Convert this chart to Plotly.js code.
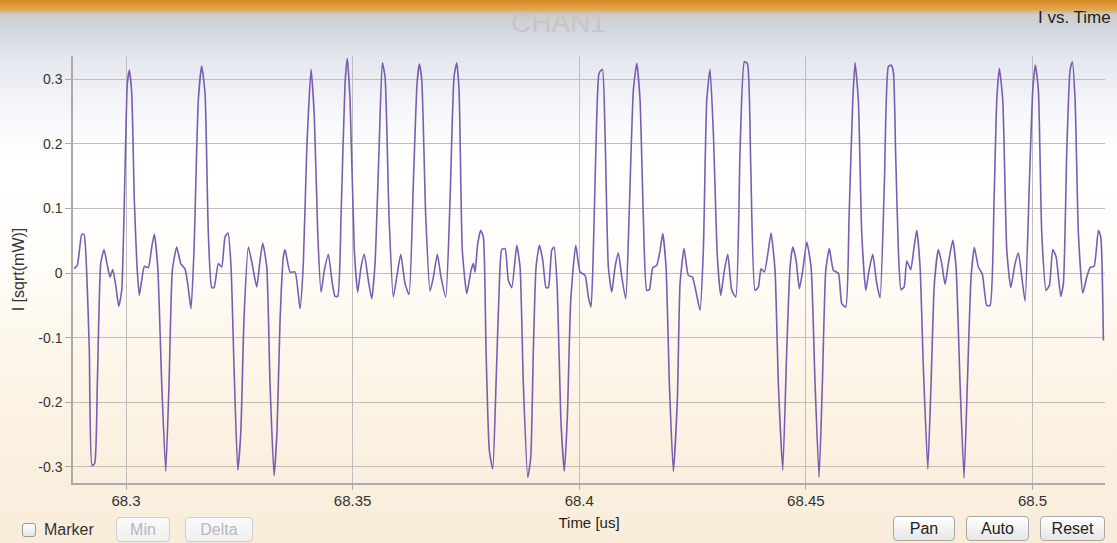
<!DOCTYPE html>
<html>
<head>
<meta charset="utf-8">
<script src="https://cdn.plot.ly/plotly-3.0.1.min.js"></script>
<style>
  html, body { margin: 0; padding: 0; }
  #wrap {
    position: relative; width: 1117px; height: 543px; overflow: hidden;
    background: linear-gradient(to bottom,
      #d48823 0px, #e3a448 9px, #d0cdc9 15px, #d0d5de 28px, #e4e8ef 60px,
      #f6f7fa 110px, #ffffff 160px, #fffdf9 260px, #fcf4e6 380px, #f9ecda 543px);
    font-family: "Liberation Sans", Arial, sans-serif;
  }
  #chart { position: absolute; left: 0; top: 0; width: 1117px; height: 543px; }
  .btn {
    position: absolute; height: 25px; box-sizing: border-box;
    border: 1px solid #a9a9a9; border-radius: 4px;
    background: linear-gradient(to bottom, #ffffff, #e6e6e6);
    font-size: 16px; color: #222; text-align: center; line-height: 23px;
  }
  .btn.off { color: #b8b8b8; border-color: #cfcfcf; background: linear-gradient(to bottom, #fbfbfb, #efefef); }
  #chk { position: absolute; left: 22px; top: 523px; width: 14px; height: 14px; box-sizing: border-box;
    border: 1px solid #9a9a9a; border-radius: 3px; background: linear-gradient(#fff,#e6e6e6); }
  #chklbl { position: absolute; left: 44px; top: 521px; font-size: 16px; color: #333; }
</style>
</head>
<body>
<div id="wrap">
  <div id="chart"></div>
  <div id="chk"></div><div id="chklbl">Marker</div>
  <div class="btn off" style="left:116px;top:517px;width:54px;">Min</div>
  <div class="btn off" style="left:185px;top:517px;width:68px;">Delta</div>
  <div class="btn" style="left:893px;top:516px;width:62px;">Pan</div>
  <div class="btn" style="left:966px;top:516px;width:63px;">Auto</div>
  <div class="btn" style="left:1040px;top:516px;width:65px;">Reset</div>
</div>
<script>
// Time axis (us)
const timeUs = [68.28853,68.28925,68.29023,68.29073,68.29133,68.29190,68.29250,68.29309,68.29367,68.29442,68.29515,68.29587,68.29647,68.29707,68.29773,68.29839,68.29905,68.29963,68.30029,68.30073,68.30126,68.30183,68.30243,68.30293,68.30346,68.30404,68.30492,68.30567,68.30624,68.30700,68.30788,68.30876,68.30949,68.31022,68.31119,68.31207,68.31302,68.31361,68.31434,68.31500,68.31595,68.31670,68.31743,68.31816,68.31891,68.31942,68.32037,68.32112,68.32184,68.32251,68.32317,68.32383,68.32465,68.32531,68.32604,68.32699,68.32796,68.32884,68.32957,68.33016,68.33105,68.33177,68.33266,68.33332,68.33398,68.33471,68.33508,68.33619,68.33729,68.33839,68.33912,68.33987,68.34082,68.34155,68.34230,68.34303,68.34376,68.34464,68.34552,68.34612,68.34671,68.34744,68.34832,68.34883,68.34943,68.35037,68.35112,68.35185,68.35258,68.35346,68.35421,68.35494,68.35582,68.35655,68.35715,68.35803,68.35898,68.35973,68.36061,68.36156,68.36244,68.36339,68.36421,68.36472,68.36525,68.36613,68.36708,68.36781,68.36869,68.36950,68.37054,68.37149,68.37237,68.37297,68.37348,68.37420,68.37518,68.37612,68.37663,68.37701,68.37760,68.37826,68.37884,68.37943,68.38016,68.38091,68.38164,68.38237,68.38290,68.38363,68.38435,68.38511,68.38621,68.38694,68.38766,68.38864,68.38930,68.38987,68.39047,68.39120,68.39195,68.39267,68.39318,68.39393,68.39444,68.39517,68.39592,68.39671,68.39737,68.39812,68.39923,68.40018,68.40128,68.40201,68.40260,68.40311,68.40386,68.40437,68.40510,68.40569,68.40642,68.40717,68.40790,68.40863,68.40938,68.41026,68.41099,68.41194,68.41269,68.41341,68.41414,68.41489,68.41547,68.41622,68.41710,68.41783,68.41842,68.41915,68.41988,68.42076,68.42164,68.42224,68.42312,68.42407,68.42495,68.42570,68.42665,68.42738,68.42813,68.42886,68.42959,68.43047,68.43122,68.43202,68.43277,68.43365,68.43453,68.43548,68.43643,68.43709,68.43784,68.43879,68.43952,68.44011,68.44084,68.44172,68.44232,68.44320,68.44393,68.44490,68.44578,68.44651,68.44711,68.44784,68.44856,68.44931,68.45020,68.45115,68.45203,68.45291,68.45364,68.45439,68.45518,68.45607,68.45717,68.45792,68.45880,68.45953,68.46035,68.46085,68.46158,68.46233,68.46322,68.46394,68.46476,68.46564,68.46637,68.46732,68.46820,68.46880,68.46931,68.46979,68.47041,68.47100,68.47167,68.47226,68.47314,68.47387,68.47447,68.47520,68.47592,68.47690,68.47762,68.47835,68.47923,68.47998,68.48071,68.48144,68.48241,68.48314,68.48402,68.48490,68.48563,68.48645,68.48718,68.48806,68.48894,68.48991,68.49064,68.49152,68.49212,68.49269,68.49344,68.49433,68.49521,68.49616,68.49689,68.49764,68.49836,68.49931,68.50006,68.50064,68.50130,68.50205,68.50300,68.50373,68.50448,68.50521,68.50624,68.50682,68.50757,68.50829,68.50880,68.50940,68.51013,68.51110,68.51198,68.51271,68.51359,68.51454,68.51507,68.51564];

// I [sqrt(mW)]
const currentI = [0.0068,0.0119,0.0600,0.0600,0,-0.1198,-0.2981,-0.2946,-0.1710,0.0150,0.0363,0.0119,-0.0062,0.0053,-0.0191,-0.0516,-0.0268,0.1127,0.2936,0.3143,0.2781,0.1127,0.0093,-0.0346,-0.0113,0.0104,0.0084,0.0403,0.0600,0.0093,-0.1715,-0.3070,-0.1715,0.0042,0.0403,0.0146,0.0062,-0.0164,-0.0552,0.0352,0.2678,0.3205,0.2781,0.0611,-0.0226,-0.0226,0.0146,0.0093,0.0558,0.0620,0.0093,-0.1457,-0.3048,-0.2490,-0.0682,0.0403,0.0093,-0.0217,0.0197,0.0465,0.0093,-0.1715,-0.3137,-0.2439,-0.0733,0.0248,0.0363,0.0016,0.0016,-0.0552,0.0146,0.1902,0.3154,0.2419,0.0611,-0.0295,0.0042,0.0290,-0.0164,-0.0361,-0.0361,0.0868,0.2936,0.3324,0.2678,0.0352,-0.0295,0.0093,0.0290,-0.0113,-0.0397,0.0146,0.1902,0.3256,0.3039,0.0868,-0.0372,-0.0062,0.0290,-0.0164,-0.0330,0.1386,0.2936,0.3236,0.2988,0.0868,-0.0279,-0.0062,0.0290,-0.0062,-0.0372,0.1127,0.3039,0.3256,0.2833,0.0352,-0.0319,0.0042,0.0146,0.0016,0.0456,0.0662,0.0558,-0.1198,-0.2749,-0.3033,-0.1715,-0.0164,0.0363,0.0378,-0.0113,-0.0226,0.0429,0.0093,-0.1715,-0.3163,-0.2853,-0.1198,0.0093,0.0429,0.0197,-0.0226,-0.0226,0.0352,0.0403,-0.0268,-0.2233,-0.3070,-0.2233,-0.0423,0.0429,0.0016,-0.0036,-0.0372,-0.0527,0.0352,0.2419,0.3091,0.3154,0.2161,0.0093,-0.0295,0.0093,0.0310,-0.0062,-0.0397,0.0868,0.2833,0.3247,0.2678,0.0868,-0.0268,-0.0257,0.0084,0.0119,0.0352,0.0611,0.0093,-0.1715,-0.3070,-0.1974,-0.0164,0.0378,-0.0036,-0.0062,-0.0268,-0.0578,0.0352,0.2678,0.3154,0.2161,0.0248,-0.0346,0.0042,0.0290,-0.0268,-0.0372,0.1902,0.3271,0.3247,0.1643,-0.0268,-0.0217,0.0068,0.0016,0.0352,0.0620,0.0042,-0.1715,-0.3048,-0.1198,0.0093,0.0403,0.0197,-0.0242,0.0042,0.0481,0.0093,-0.1715,-0.3163,-0.1715,0.0042,0.0378,0.0042,0,-0.0474,-0.0527,0.0868,0.2678,0.3256,0.2678,0.0611,-0.0268,0.0042,0.0290,-0.0164,-0.0381,0.1386,0.3194,0.3221,0.3112,0.1902,0.0352,-0.0257,-0.0217,0.0186,0.0053,0.0403,0.0662,0.0093,-0.1457,-0.3033,-0.1715,-0.0164,0.0363,0.0146,-0.0175,0.0146,0.0507,0.0093,-0.1715,-0.3172,-0.1715,-0.0062,0.0394,0.0093,-0.0020,-0.0501,-0.0501,0.1127,0.2678,0.3169,0.2678,0.0352,-0.0226,0.0146,0.0310,-0.0062,-0.0434,0.1386,0.2833,0.3220,0.2833,0.0611,-0.0268,-0.0191,0.0363,0.0248,-0.0361,-0.0164,0.1902,0.3143,0.3271,0.2678,0.0611,-0.0310,-0.0062,0.0084,0.0104,0.0662,0.0558,-0.1043];

const xTickVals = [68.3, 68.35, 68.4, 68.45, 68.5];
const xTickText = ["68.3", "68.35", "68.4", "68.45", "68.5"];
const yTickVals = [-0.3, -0.2, -0.1, 0, 0.1, 0.2, 0.3];
const yTickText = ["-0.3", "-0.2", "-0.1", "0", "0.1", "0.2", "0.3"];

if (timeUs.length !== currentI.length) {
  throw new Error("length mismatch " + timeUs.length + " vs " + currentI.length);
}

const FONT = "Liberation Sans, Arial, sans-serif";

const trace = {
  x: timeUs, y: currentI, type: "scatter", mode: "lines",
  line: { color: "#7a5db3", width: 1.6, shape: "spline", smoothing: 0.5 },
  hoverinfo: "x+y", showlegend: false
};

const layout = {
  width: 1117, height: 543,
  margin: { l: 73, r: 12, t: 56, b: 60 },
  paper_bgcolor: "rgba(0,0,0,0)",
  plot_bgcolor: "rgba(0,0,0,0)",
  font: { family: FONT, size: 14, color: "#333" },
  title: {
    text: "CHAN1", x: 0.5, xref: "container", xanchor: "center",
    y: 0.96, yref: "container", yanchor: "middle",
    font: { family: FONT, size: 28, color: "#c6c6c6" }
  },
  xaxis: {
    range: [68.2883, 68.5160],
    tickmode: "array", tickvals: xTickVals, ticktext: xTickText,
    showgrid: true, gridcolor: "#bdbdbd", gridwidth: 1,
    showline: true, linecolor: "#aaaaaa", linewidth: 1.5,
    ticks: "outside", ticklen: 5, tickcolor: "#aaaaaa",
    ticklabelstandoff: -2,
    tickfont: { family: FONT, size: 15, color: "#333" },
    zeroline: false, automargin: false,
    title: { text: "Time [us]", font: { family: FONT, size: 15, color: "#222" }, standoff: 10 }
  },
  yaxis: {
    range: [-0.325, 0.336],
    tickmode: "array", tickvals: yTickVals, ticktext: yTickText,
    showgrid: true, gridcolor: "#bdbdbd", gridwidth: 1,
    showline: true, linecolor: "#aaaaaa", linewidth: 1.5,
    ticks: "outside", ticklen: 6, tickcolor: "#aaaaaa",
    tickfont: { family: FONT, size: 14, color: "#333" },
    zeroline: false, automargin: false,
    title: { text: "I [sqrt(mW)]", font: { family: FONT, size: 16, color: "#333" }, standoff: 10 }
  },
  annotations: [{
    text: "I vs. Time", xref: "paper", yref: "paper",
    x: 1.0075, xanchor: "right", y: 1.089, yanchor: "middle",
    showarrow: false, font: { family: FONT, size: 17, color: "#222" }
  }]
};

Plotly.newPlot("chart", [trace], layout, { displayModeBar: false });
</script>
</body>
</html>
